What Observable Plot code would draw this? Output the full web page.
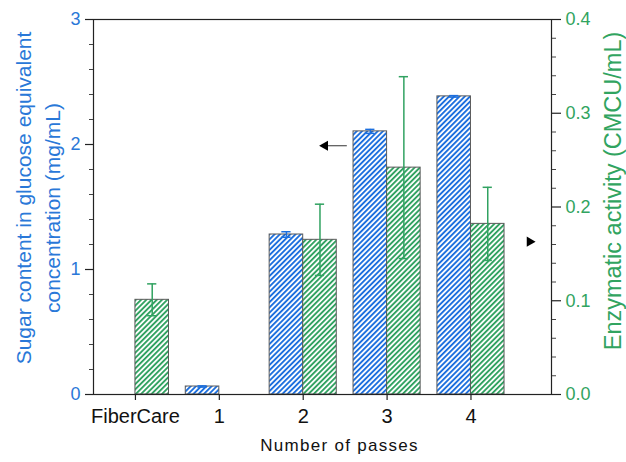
<!DOCTYPE html>
<html><head><meta charset="utf-8">
<script src="https://cdn.jsdelivr.net/npm/d3@7"></script>
<script src="https://cdn.jsdelivr.net/npm/@observablehq/plot@0.6"></script>
<style>body{margin:0;background:#fff;} svg{display:block;}</style>
</head><body><div id="chart"></div>
<script>
const categories = ["FiberCare", "1", "2", "3", "4"];
const sugar = [null, 0.064, 1.28, 2.105, 2.385];
const sugarErr = [null, 0.005, 0.022, 0.016, 0.006];
const enzyme = [0.101, null, 0.165, 0.242, 0.182];
const enzymeErr = [0.017, null, 0.038, 0.097, 0.039];
const leftTicks = [0, 1, 2, 3];
const rightTicks = [0, 0.1, 0.2, 0.3, 0.4];
const leftTitle = ["Sugar content in glucose equivalent", "concentration (mg/mL)"];
const rightTitle = "Enzymatic activity (CMCU/mL)";
const xTitle = "Number of passes";
// annotation arrows (data units: x category index, y left / right axis units)
const leftArrow = {x1: 2.52, x2: 2.28, xHead: 2.26, y: 1.99};
const rightArrow = {xHead: 4.70, y: 0.163};

const BLUE = "#1c6fde", GREEN = "#31a261";
const BLUE_T = "#2a78d8", GREEN_T = "#31a460";
const k = 3 / 0.4; // right axis -> left axis units
const half = 0.4, cap = 0.055;

const rows = categories.map((c, i) => ({i, c, sugar: sugar[i], sugarErr: sugarErr[i], enzyme: enzyme[i], enzymeErr: enzymeErr[i]}));
const blueRows = rows.filter(d => d.sugar != null);
const greenRows = rows.filter(d => d.enzyme != null);
const leftMinor = d3.range(0, 3.0001, 0.2).filter(v => Math.abs(v - Math.round(v)) > 1e-6);
const rightMinor = d3.range(0, 0.4001, 0.02).filter(v => Math.abs(v * 10 - Math.round(v * 10)) > 1e-6).map(v => v * k);

const font = "Liberation Sans, Arial, sans-serif";

const chart = Plot.plot({
  width: 626, height: 462,
  marginLeft: 93, marginRight: 75, marginTop: 19, marginBottom: 68,
  style: {fontFamily: font, background: "white", overflow: "visible"},
  x: {domain: [-0.5, 4.96], axis: null},
  y: {domain: [0, 3], axis: null},
  marks: [
    Plot.rect(blueRows, {x1: d => d.i - half, x2: d => d.i, y1: 0, y2: d => d.sugar, fill: "url(#hatchBlue)", stroke: "#5a5a5a", strokeWidth: 1}),
    Plot.rect(greenRows, {x1: d => d.i, x2: d => d.i + half, y1: 0, y2: d => d.enzyme * k, fill: "url(#hatchGreen)", stroke: "#5a5a5a", strokeWidth: 1}),
    // blue error bars
    Plot.ruleX(blueRows, {x: d => d.i - half / 2, y1: d => d.sugar - d.sugarErr, y2: d => d.sugar + d.sugarErr, stroke: BLUE, strokeWidth: 1.5}),
    Plot.ruleY(blueRows, {y: d => d.sugar + d.sugarErr, x1: d => d.i - half / 2 - cap, x2: d => d.i - half / 2 + cap, stroke: BLUE, strokeWidth: 1.5}),
    Plot.ruleY(blueRows, {y: d => d.sugar - d.sugarErr, x1: d => d.i - half / 2 - cap, x2: d => d.i - half / 2 + cap, stroke: BLUE, strokeWidth: 1.5}),
    // green error bars
    Plot.ruleX(greenRows, {x: d => d.i + half / 2, y1: d => (d.enzyme - d.enzymeErr) * k, y2: d => (d.enzyme + d.enzymeErr) * k, stroke: GREEN, strokeWidth: 1.5}),
    Plot.ruleY(greenRows, {y: d => (d.enzyme + d.enzymeErr) * k, x1: d => d.i + half / 2 - cap, x2: d => d.i + half / 2 + cap, stroke: GREEN, strokeWidth: 1.5}),
    Plot.ruleY(greenRows, {y: d => (d.enzyme - d.enzymeErr) * k, x1: d => d.i + half / 2 - cap, x2: d => d.i + half / 2 + cap, stroke: GREEN, strokeWidth: 1.5}),
    // arrows
    Plot.link([leftArrow], {x1: "x1", x2: "x2", y1: "y", y2: "y", stroke: "#333", strokeWidth: 1}),
    Plot.dot([leftArrow], {x: "xHead", y: "y", symbol: "triangle", r: 3.8, rotate: -90, fill: "black", stroke: "none"}),
    Plot.dot([rightArrow], {x: "xHead", y: d => d.y * k, symbol: "triangle", r: 3.8, rotate: 90, fill: "black", stroke: "none"}),
    // frame
    Plot.frame({stroke: "#222", strokeWidth: 1.2}),
    // left axis
    Plot.axisY({ticks: leftTicks, tickFormat: d => String(d), tickSize: 8, tickPadding: 5, stroke: "#222", fill: BLUE_T, fontSize: 18, label: null, strokeWidth: 1.2}),
    Plot.axisY({ticks: leftMinor, tickSize: 4, text: null, stroke: "#444", label: null}),
    // right axis
    Plot.axisY({anchor: "right", ticks: rightTicks.map(v => v * k), tickFormat: d => (d / k).toFixed(1), tickSize: 9, tickPadding: 5, stroke: "#222", fill: GREEN_T, fontSize: 18, label: null, strokeWidth: 1.2}),
    Plot.axisY({anchor: "right", ticks: rightMinor, tickSize: 4, text: null, stroke: "#444", label: null}),
    // bottom axis
    Plot.axisX({ticks: [0, 1, 2, 3, 4], tickFormat: i => categories[i], tickSize: 6, tickPadding: 8, stroke: "#222", fill: "#111", fontSize: 20, label: null, strokeWidth: 1.2}),
    // titles
    Plot.text([leftTitle[0]], {text: d => d, frameAnchor: "left", rotate: -90, dx: -69, dy: -9, fontSize: 21, fill: BLUE_T, textAnchor: "middle"}),
    Plot.text([leftTitle[1]], {text: d => d, frameAnchor: "left", rotate: -90, dx: -40, dy: 1, fontSize: 21, fill: BLUE_T, textAnchor: "middle"}),
    Plot.text([rightTitle], {text: d => d, frameAnchor: "right", rotate: -90, dx: 62, dy: -16, fontSize: 23.5, fill: GREEN_T, textAnchor: "middle"}),
    Plot.text([xTitle], {text: d => d, frameAnchor: "bottom", dx: 17, dy: 44, lineAnchor: "top", fontSize: 17, fill: "#111", textAnchor: "middle"})
  ]
});

d3.select(chart).selectAll("text").filter(function () { return this.textContent === xTitle; })
  .style("letter-spacing", "1.3px");

const defs = d3.select(chart).insert("defs", ":first-child");
function hatch(id, color) {
  const p = defs.append("pattern").attr("id", id).attr("patternUnits", "userSpaceOnUse")
    .attr("width", 3.7).attr("height", 3.7).attr("patternTransform", "rotate(45)");
  p.append("rect").attr("width", 3.7).attr("height", 3.7).attr("fill", "white");
  p.append("rect").attr("width", 1.9).attr("height", 3.7).attr("fill", color);
}
hatch("hatchBlue", BLUE);
hatch("hatchGreen", GREEN);
document.getElementById("chart").appendChild(chart);
</script>
</body></html>
